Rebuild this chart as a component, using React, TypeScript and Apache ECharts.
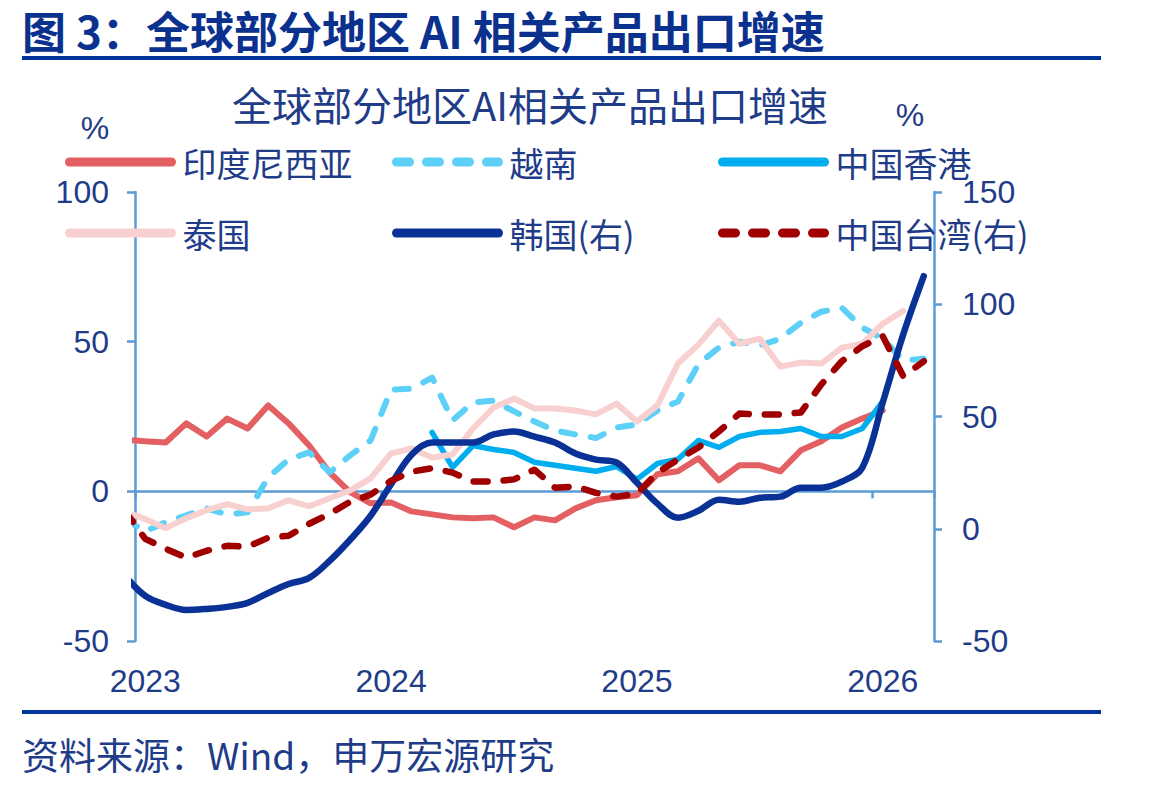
import React, { useEffect, useRef } from "react";
import * as echarts from "echarts";

// Monthly observations; the first month sits just left of the visible axis range.
const months = [
  "2022-12",
  "2023-01", "2023-02", "2023-03", "2023-04", "2023-05", "2023-06",
  "2023-07", "2023-08", "2023-09", "2023-10", "2023-11", "2023-12",
  "2024-01", "2024-02", "2024-03", "2024-04", "2024-05", "2024-06",
  "2024-07", "2024-08", "2024-09", "2024-10", "2024-11", "2024-12",
  "2025-01", "2025-02", "2025-03", "2025-04", "2025-05", "2025-06",
  "2025-07", "2025-08", "2025-09", "2025-10", "2025-11", "2025-12",
  "2026-01", "2026-02", "2026-03",
];

// Left axis (%)
const indonesia = [
  17.3,
  16.7, 16.3, 22.7, 18.3, 24.3, 21, 28.7, 22.7, 15.3, 6.3, -0.3, -4,
  -3.7, -6.7, -7.7, -8.7, -9, -8.7, -12, -8.7, -9.7, -5.7, -3, -2,
  -1.3, 5.7, 6.7, 11, 3.7, 8.7, 8.7, 6.7, 13.7, 16.7, 21.3, 24.3,
  27, null, null,
];
const vietnam = [
  -9.3,
  -13.3, -10.3, -8, -5.7, -7.7, -7, 4.7, 10.7, 13, 6.3, 12, 17,
  34, 34.3, 38, 23.7, 29.7, 30.3, 26.7, 23.3, 20.3, 19, 17.8, 21.3,
  22.3, 27, 30, 42.5, 48, 50, 48.7, 51, 56.3, 60, 61.3, 54.7,
  51, 43.7, 44.3,
];
const hongKong = [
  null,
  null, null, null, null, null, null, null, null, null, null, null, null,
  null, null, 19.7, 8, 15.3, 14, 13, 9.7, 8.7, 7.7, 6.7, 8.3,
  4, 9.3, 10.7, 17, 14.7, 18.3, 19.7, 20, 21, 18.3, 18.3, 21,
  30, null, null,
];
const thailand = [
  -6.7,
  -9.3, -12.3, -9, -6.3, -4.3, -6, -5.7, -3, -5, -2.3, 0.3, 4.3,
  12.7, 14.3, 11.3, 12.3, 21, 28, 31, 27.7, 27.7, 27, 25.7, 29.3,
  23.3, 28.7, 42.7, 49, 57, 49.3, 51, 41.7, 43, 42.7, 48, 49.3,
  56, 60.3, null,
];
// Right axis (%)
const korea = [
  -20.9,
  -29.9, -33.9, -36.2, -35.7, -34.8, -33, -28.6, -24.6, -21.9, -14.3, -4.9, 5.8,
  19.8, 33, 38.4, 38.4, 38.4, 42, 43.3, 41, 38.4, 33.5, 30.8, 29.5,
  20.5, 11.2, 4.9, 8, 12.9, 12, 13.8, 14.3, 18.3, 18.3, 21, 27.2,
  56.3, 86.6, 112.5,
];
const taiwan = [
  8.1,
  -4.5, -8.9, -12.9, -9.8, -7.6, -8, -4, -3.1, 2.2, 6.7, 12, 15.2,
  21.4, 25.4, 27, 25, 21, 21, 22, 26.3, 18.3, 18.8, 16, 14.3,
  15.6, 25, 30.8, 36.2, 43.3, 51.3, 50.9, 50.9, 51.8, 64.3, 74.6, 81.3,
  85.7, 67.9, 74.6,
];

const leftTicks = [-50, 0, 50, 100];
const rightTicks = [-50, 0, 50, 100, 150];

const TEXT = "#1F3C88";
const HEAD = "#0B318F";
const AXIS = "#5B9BD5";
const FONT = "'Liberation Sans', Arial, 'Noto Sans CJK SC', sans-serif";
const CJK = "'Noto Sans CJK SC', 'Liberation Sans', sans-serif";

// month index -> x position (Jan 2023 = 0)
const toPairs = (vals: (number | null)[]) =>
  vals.map((v, i) => [i - 1, v] as [number, number | null]);

type Spec = {
  name: string;
  data: (number | null)[];
  color: string;
  axis: number;
  dashed: boolean;
  width: number;
  smooth: boolean;
  legendLeft: number;
  legendTop: number;
};

const specs: Spec[] = [
  { name: "印度尼西亚", data: indonesia, color: "#E35F62", axis: 0, dashed: false, width: 6, smooth: false, legendLeft: 65, legendTop: 145 },
  { name: "越南", data: vietnam, color: "#5DD0F7", axis: 0, dashed: true, width: 6, smooth: false, legendLeft: 392, legendTop: 145 },
  { name: "中国香港", data: hongKong, color: "#00AEEF", axis: 0, dashed: false, width: 5.5, smooth: false, legendLeft: 718, legendTop: 145 },
  { name: "泰国", data: thailand, color: "#F8D0D0", axis: 0, dashed: false, width: 6, smooth: false, legendLeft: 65, legendTop: 216 },
  { name: "韩国(右)", data: korea, color: "#0A3296", axis: 1, dashed: false, width: 6.5, smooth: true, legendLeft: 392, legendTop: 216 },
  { name: "中国台湾(右)", data: taiwan, color: "#A00000", axis: 1, dashed: true, width: 6.5, smooth: false, legendLeft: 718, legendTop: 216 },
];

export default function App() {
  const ref = useRef<HTMLDivElement>(null);

  useEffect(() => {
    if (!ref.current) return;
    const chart = echarts.init(ref.current, undefined, { renderer: "svg" });

    const axisLabel = { color: TEXT, fontSize: 32, fontFamily: FONT };

    chart.setOption({
      animation: false,
      backgroundColor: "#ffffff",
      grid: { left: 135, right: 215, top: 192, bottom: 146, containLabel: false, outerBoundsMode: "none" },
      legend: specs.map((s) => ({
        data: [s.name],
        left: s.legendLeft,
        top: s.legendTop,
        padding: 0,
        itemWidth: 102,
        itemHeight: 14,
        selectedMode: false,
        textStyle: { color: TEXT, fontSize: 34, fontFamily: CJK, padding: [0, 0, 0, 6] },
        itemStyle: { opacity: 0, borderWidth: 0 },
        lineStyle: {
          width: 9,
          cap: "round",
          type: s.dashed ? [13, 17] : "solid",
          color: s.color,
          opacity: 1,
        },
      })),
      xAxis: [
        {
          type: "value",
          min: -0.5,
          max: 38.5,
          interval: 12,
          axisLine: { show: true, onZero: true, onZeroAxisIndex: 0, lineStyle: { color: AXIS, width: 2.5 } },
          axisTick: { show: true, length: 7, lineStyle: { color: AXIS, width: 2.5 } },
          axisLabel: { show: false },
          splitLine: { show: false },
        },
        {
          type: "value",
          position: "bottom",
          min: -0.5,
          max: 38.5,
          interval: 0.5,
          axisLine: { show: false, onZero: false },
          axisTick: { show: false },
          splitLine: { show: false },
          axisLabel: {
            ...axisLabel,
            margin: 24,
            showMinLabel: true,
            showMaxLabel: true,
            formatter: (v: number) => {
              const m = months[v + 1];
              if (Number.isInteger(v) && m && m.endsWith("-01")) return m.slice(0, 4);
              return "";
            },
          },
        },
      ],
      yAxis: [
        {
          type: "value",
          position: "left",
          min: leftTicks[0],
          max: leftTicks[leftTicks.length - 1],
          interval: 50,
          axisLine: { show: true, onZero: false, lineStyle: { color: AXIS, width: 2.5 } },
          axisTick: { show: true, length: 8, lineStyle: { color: AXIS, width: 2.5 } },
          axisLabel: { ...axisLabel, margin: 26 },
          splitLine: { show: false },
        },
        {
          type: "value",
          position: "right",
          min: rightTicks[0],
          max: rightTicks[rightTicks.length - 1],
          interval: 50,
          axisLine: { show: true, onZero: false, lineStyle: { color: AXIS, width: 2.5 } },
          axisTick: { show: true, length: 8, lineStyle: { color: AXIS, width: 2.5 } },
          axisLabel: { ...axisLabel, margin: 28 },
          splitLine: { show: false },
        },
      ],
      series: specs.map((s) => ({
        name: s.name,
        type: "line",
        xAxisIndex: 0,
        yAxisIndex: s.axis,
        data: toPairs(s.data),
        symbol: "none",
        smooth: s.smooth ? 0.35 : false,
        connectNulls: false,
        clip: true,
        lineStyle: {
          color: s.color,
          width: s.width,
          type: s.dashed ? [14, 16] : "solid",
          cap: "round",
          join: "round",
        },
        itemStyle: { color: s.color },
      })),
      graphic: [
        {
          type: "text",
          x: 22,
          y: 30,
          style: {
            text: "图 3：全球部分地区 AI 相关产品出口增速",
            fill: HEAD,
            font: `bold 44px ${CJK}`,
            textVerticalAlign: "middle",
          },
        },
        { type: "rect", shape: { x: 22, y: 56, width: 1079, height: 4 }, style: { fill: "#003399" } },
        {
          type: "text",
          x: 530,
          y: 104,
          style: {
            text: "全球部分地区AI相关产品出口增速",
            fill: TEXT,
            font: `40px ${CJK}`,
            textAlign: "center",
            textVerticalAlign: "middle",
          },
        },
        {
          type: "text",
          x: 95,
          y: 128,
          style: { text: "%", fill: TEXT, font: `32px ${FONT}`, textAlign: "center", textVerticalAlign: "middle" },
        },
        {
          type: "text",
          x: 910,
          y: 115,
          style: { text: "%", fill: TEXT, font: `32px ${FONT}`, textAlign: "center", textVerticalAlign: "middle" },
        },
        { type: "rect", shape: { x: 22, y: 710, width: 1079, height: 4 }, style: { fill: "#003399" } },
        {
          type: "text",
          x: 22,
          y: 754,
          style: {
            text: "资料来源：Wind，申万宏源研究",
            fill: TEXT,
            font: `37px ${CJK}`,
            textVerticalAlign: "middle",
          },
        },
      ],
    });

    return () => chart.dispose();
  }, []);

  return (
    <div
      ref={ref}
      style={{ position: "absolute", left: 0, top: 0, width: 1149, height: 787, background: "#fff" }}
    />
  );
}
